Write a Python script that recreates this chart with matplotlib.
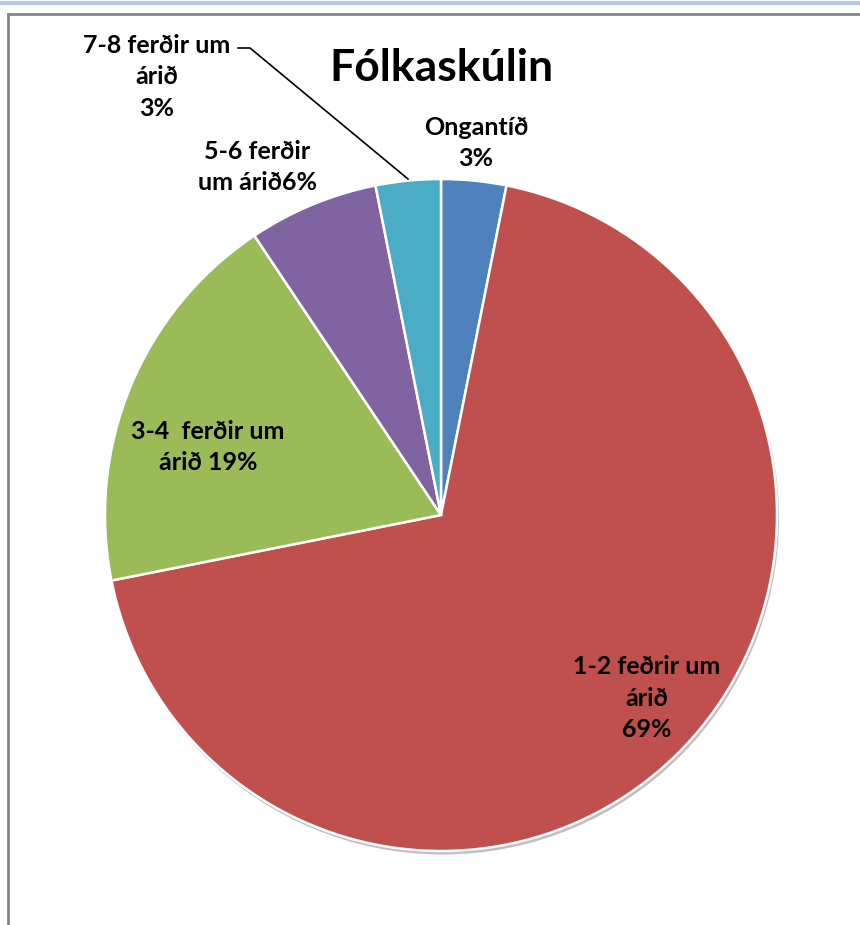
import matplotlib.pyplot as plt
from matplotlib.lines import Line2D
from matplotlib.patches import Circle

plt.rcParams['font.family'] = ['Lato', 'DejaVu Sans']

# data
labels = ['Ongantíð\n3%', '1-2 feðrir um\nárið\n69%', '3-4  ferðir um\nárið 19%',
          '5-6 ferðir\num árið6%', '7-8 ferðir um\nárið\n3%']
counts = [1, 22, 6, 2, 1]
colors = ['#4F81BD', '#C0504D', '#9BBB59', '#8064A2', '#4BACC6']
title = 'Fólkaskúlin'

W, H = 860, 925
fig = plt.figure(figsize=(W / 100, H / 100), dpi=100)
ax = fig.add_axes([0, 0, 1, 1])

cx, cy, r = 441, H - 515, 336
# soft grey shadow behind the pie
ax.add_patch(Circle((cx + 1.5, cy - 3), r + 0.5, color='#8c8c8c', alpha=0.55, lw=0, zorder=0))
ax.pie(counts, colors=colors, startangle=90, counterclock=False,
       center=(cx, cy), radius=r, frame=True,
       wedgeprops=dict(edgecolor='white', linewidth=1.8, zorder=1))
ax.set_xlim(0, W)
ax.set_ylim(0, H)
ax.set_aspect('equal')
ax.axis('off')

# label positions (pixel coords from top)
pos = [(476, 143), (647, 698), (208, 447), (257, 167), (157, 77)]
for lab, (x, y) in zip(labels, pos):
    ax.text(x, H - y, lab, ha='center', va='center', fontsize=18,
            fontweight='bold', color='black', linespacing=1.45, zorder=5)

# leader line for the small 7-8 slice
ax.add_line(Line2D([238, 250, 408], [H - 48, H - 48, H - 179], color='black', lw=1.2))

ax.text(441, H - 68, title, ha='center', va='center', fontsize=32,
        fontweight='bold', color='black')

# chart frame
fig.add_artist(Line2D([0, 1], [1 - 2.5 / H, 1 - 2.5 / H], color='#B8CCE4', lw=3,
                      transform=fig.transFigure))
fig.add_artist(Line2D([8 / W, 1], [1 - 13.5 / H, 1 - 13.5 / H], color='#868686', lw=2,
                      transform=fig.transFigure))
fig.add_artist(Line2D([8 / W, 8 / W], [0, 1 - 13.5 / H], color='#868686', lw=2,
                      transform=fig.transFigure))

fig.savefig('out.png', dpi=100)
